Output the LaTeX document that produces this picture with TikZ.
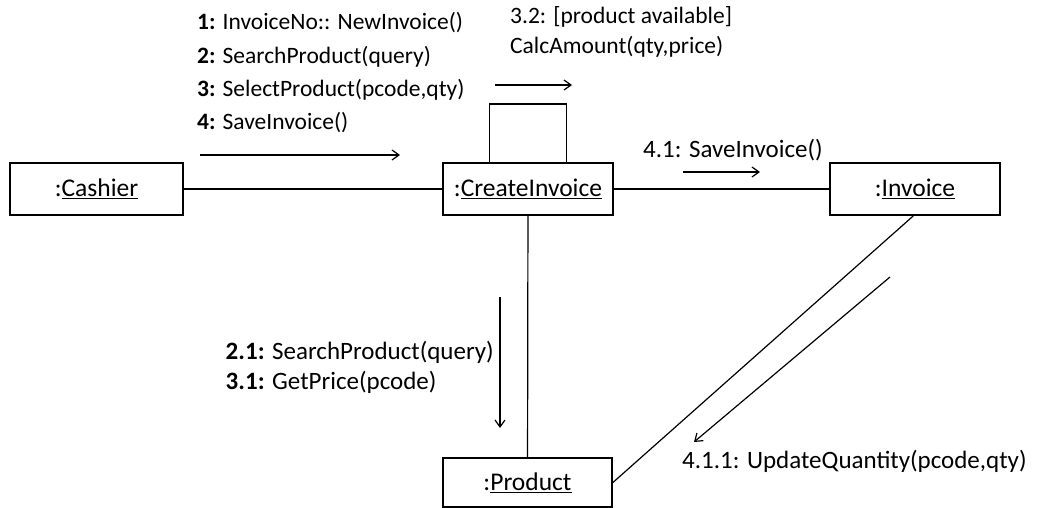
\documentclass[tikz,border=0pt]{standalone}
\usepackage{fontspec}
\setmainfont{Carlito}
\usetikzlibrary{arrows.meta,calc}
\begin{document}
\begin{tikzpicture}[x=1pt,y=-1pt,
  obj/.style={draw,line width=1.8pt,minimum height=52pt,inner sep=0pt,font=\fontsize{25.5}{30}\selectfont},
  conn/.style={line width=1.2pt},
  msg/.style={line width=1.2pt,-{Straight Barb[length=7pt,width=10pt,line width=1.2pt]}},
  lbl/.style={font=\fontsize{23.5}{28}\selectfont,inner sep=0pt,align=left},
  lblb/.style={font=\fontsize{25}{30}\selectfont,inner sep=0pt,align=left}]
\path[use as bounding box] (0,0) rectangle (1043,508);
% objects
\node[obj,minimum width=173pt] (cash) at (96.5,189) {:\underline{Cashier}};
\node[obj,minimum width=170pt] (ci) at (528,189) {:\underline{CreateInvoice}};
\node[obj,minimum width=170pt] (inv) at (915,189) {:\underline{Invoice}};
\node[obj,minimum width=169pt,minimum height=49pt] (prod) at (527.5,482.5) {:\underline{Product}};
% links
\draw[conn] (cash) -- (ci);
\draw[conn] (ci) -- (inv);
\draw[conn] (ci) -- (prod);
\draw[conn] ($(inv.south west)!0.49!(inv.south east)$) -- ($(prod.north east)!0.5!(prod.south east)$);
\draw[conn] ($(ci.north west)+(47,0)$) -- ++(0,-58) -- ++(77,0) -- ++(0,58);
% message arrows
\coordinate (a1s) at (200,155); \coordinate (a1e) at (400,155);
\draw[msg] (a1s) -- (a1e);
\coordinate (a32s) at (495,85); \coordinate (a32e) at (572,85);
\draw[msg] (a32s) -- (a32e);
\coordinate (a41s) at (683,172); \coordinate (a41e) at (760,172);
\draw[msg] (a41s) -- (a41e);
\coordinate (a21s) at (500,297); \coordinate (a21e) at (500,428);
\draw[msg] (a21s) -- (a21e);
\coordinate (a411s) at (890,277); \coordinate (a411e) at (694,442);
\draw[msg] (a411s) -- (a411e);
% labels
\node[lbl,anchor=west] (m1) at (197,23) {\textbf{1:} InvoiceNo:: NewInvoice()};
\node[lbl,anchor=west] (m2) at (197,57) {\textbf{2:} SearchProduct(query)};
\node[lbl,anchor=west] (m3) at (197,90) {\textbf{3:} SelectProduct(pcode,qty)};
\node[lbl,anchor=west] (m4) at (197,123) {\textbf{4:} SaveInvoice()};
\node[lbl,anchor=west] (m32a) at (510,17) {3.2: [product available]};
\node[lbl,anchor=west] (m32b) at (510,47) {CalcAmount(qty,price)};
\node[lblb,anchor=west] (m41) at (643,150) {4.1: SaveInvoice()};
\node[lblb,anchor=east] (m21) at (494,352) {\textbf{2.1:} SearchProduct(query)};
\node[lblb,anchor=west] (m31) at (m21.west |- 0,382) {\textbf{3.1:} GetPrice(pcode)};
\node[lblb,anchor=west] (m411) at (682,461) {4.1.1: UpdateQuantity(pcode,qty)};
\end{tikzpicture}
\end{document}
